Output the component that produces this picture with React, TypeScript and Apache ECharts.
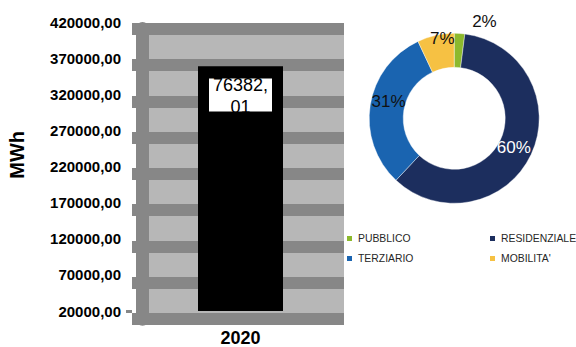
import React, { useEffect, useRef } from 'react';
import * as echarts from 'echarts';

// ---- data ----
const categories = ['2020'];
const barValues = [359500];
const barLabels = ['76382,01'];
const yMin = 20000;
const yMax = 420000;
const yStep = 50000;

const pieNames = ['PUBBLICO', 'RESIDENZIALE', 'TERZIARIO', "MOBILITA'"];
const pieValues = [2, 60, 31, 7];

// ---- styles ----
const FONT = "'Liberation Sans', Arial, sans-serif";
const BAND = '#878787';
const PLOT_BG = '#b7b7b7';
const pieColors = ['#8cb92d', '#1c2e5e', '#1a64b0', '#f6c143'];
const pieLabelStyles: any[] = [
  { position: 'outside', color: '#111' },
  { position: 'inside', color: '#fff' },
  { position: 'inside', color: '#111' },
  { position: 'inside', color: '#111' },
];
const pieLabelNudge: number[][] = [
  [0, -1.5],
  [-4.7, -0.6],
  [4.5, -5.7],
  [3.6, -10.2],
];

export default function App() {
  const ref = useRef<HTMLDivElement>(null);
  useEffect(() => {
    document.body.style.margin = '0';
    const chart = echarts.init(ref.current!, null, { renderer: 'svg' });
    const gridTop = 22.7;
    const gridH = 290.6;
    const option: any = {
      animation: false,
      backgroundColor: '#fff',
      textStyle: { fontFamily: FONT },
      grid: [
        { left: 149, top: gridTop, width: 183, height: gridH },
        {
          left: 142.5, top: gridTop + 5.9, width: 201.5, height: gridH,
          show: true, backgroundColor: PLOT_BG, borderWidth: 0,
        },
      ],
      xAxis: [
        {
          type: 'category', gridIndex: 0, data: categories,
          axisLine: { show: false }, axisTick: { show: false },
          axisLabel: { fontSize: 18, fontWeight: 'bold', color: '#000', margin: 18, fontFamily: FONT },
        },
        { type: 'category', gridIndex: 1, data: categories, show: false },
      ],
      yAxis: [
        {
          type: 'value', gridIndex: 0, min: yMin, max: yMax, interval: yStep, offset: 17,
          axisLine: { show: false },
          axisTick: { show: true, customValues: [yMin], length: 6, lineStyle: { color: BAND, width: 3 } },
          splitLine: { show: false },
          axisLabel: {
            fontSize: 15, fontWeight: 'bold', color: '#000', margin: 11, fontFamily: FONT,
            formatter: (v: number) => v.toFixed(2).replace('.', ','),
          },
          name: 'MWh', nameLocation: 'middle', nameRotate: 90, nameGap: 105,
          nameTextStyle: { fontSize: 20, fontWeight: 'bold', color: '#000', fontFamily: FONT, padding: [0, 0, 0, 24] },
        },
        {
          type: 'value', gridIndex: 1, min: yMin, max: yMax, interval: yStep,
          axisLabel: { show: false },
          axisLine: { show: true, lineStyle: { color: BAND, width: 13 } },
          axisTick: { show: true, length: 10.5, lineStyle: { color: BAND, width: 12 } },
          splitLine: { show: true, lineStyle: { color: BAND, width: 12 } },
        },
      ],
      legend: {
        data: pieNames, left: 345, top: 232.4, width: 285, orient: 'horizontal',
        itemWidth: 7, itemHeight: 7, itemGap: 8, padding: 0, icon: 'rect', selectedMode: false,
        textStyle: { fontSize: 10.4, lineHeight: 12, color: '#262626', width: 122, fontFamily: FONT },
      },
      series: [
        {
          type: 'bar', xAxisIndex: 0, yAxisIndex: 0, data: barValues, barWidth: 85,
          itemStyle: { color: '#000' },
          label: {
            show: true, position: 'insideTop', distance: 12.3,
            formatter: (p: any) => barLabels[p.dataIndex].replace(',', ',\n'),
            fontSize: 18, lineHeight: 21.5, color: '#000', width: 63, height: 33, align: 'center',
            backgroundColor: '#fff', borderColor: '#000', borderWidth: 10, padding: [-4, 0, 4, 0],
            fontFamily: FONT,
          },
        },
        {
          type: 'pie', center: [454.2, 118.3], radius: [51, 85], startAngle: 90, clockwise: true,
          avoidLabelOverlap: false,
          itemStyle: { borderColor: '#fff', borderWidth: 0.4 },
          label: {
            show: true, fontSize: 17, fontFamily: FONT,
            formatter: (p: any) => Math.round(p.percent) + '%',
          },
          labelLine: { show: false, length: 10, length2: 7 },
          labelLayout: (p: any) => ({ dx: pieLabelNudge[p.dataIndex][0], dy: pieLabelNudge[p.dataIndex][1] }),
          data: pieNames.map((n, i) => ({
            name: n, value: pieValues[i],
            itemStyle: { color: pieColors[i] },
            label: pieLabelStyles[i],
          })),
        },
      ],
    };
    chart.setOption(option);
    return () => chart.dispose();
  }, []);
  return (
    <div
      ref={ref}
      style={{ position: 'fixed', left: 0, top: 0, width: 576, height: 347, background: '#fff' }}
    />
  );
}
